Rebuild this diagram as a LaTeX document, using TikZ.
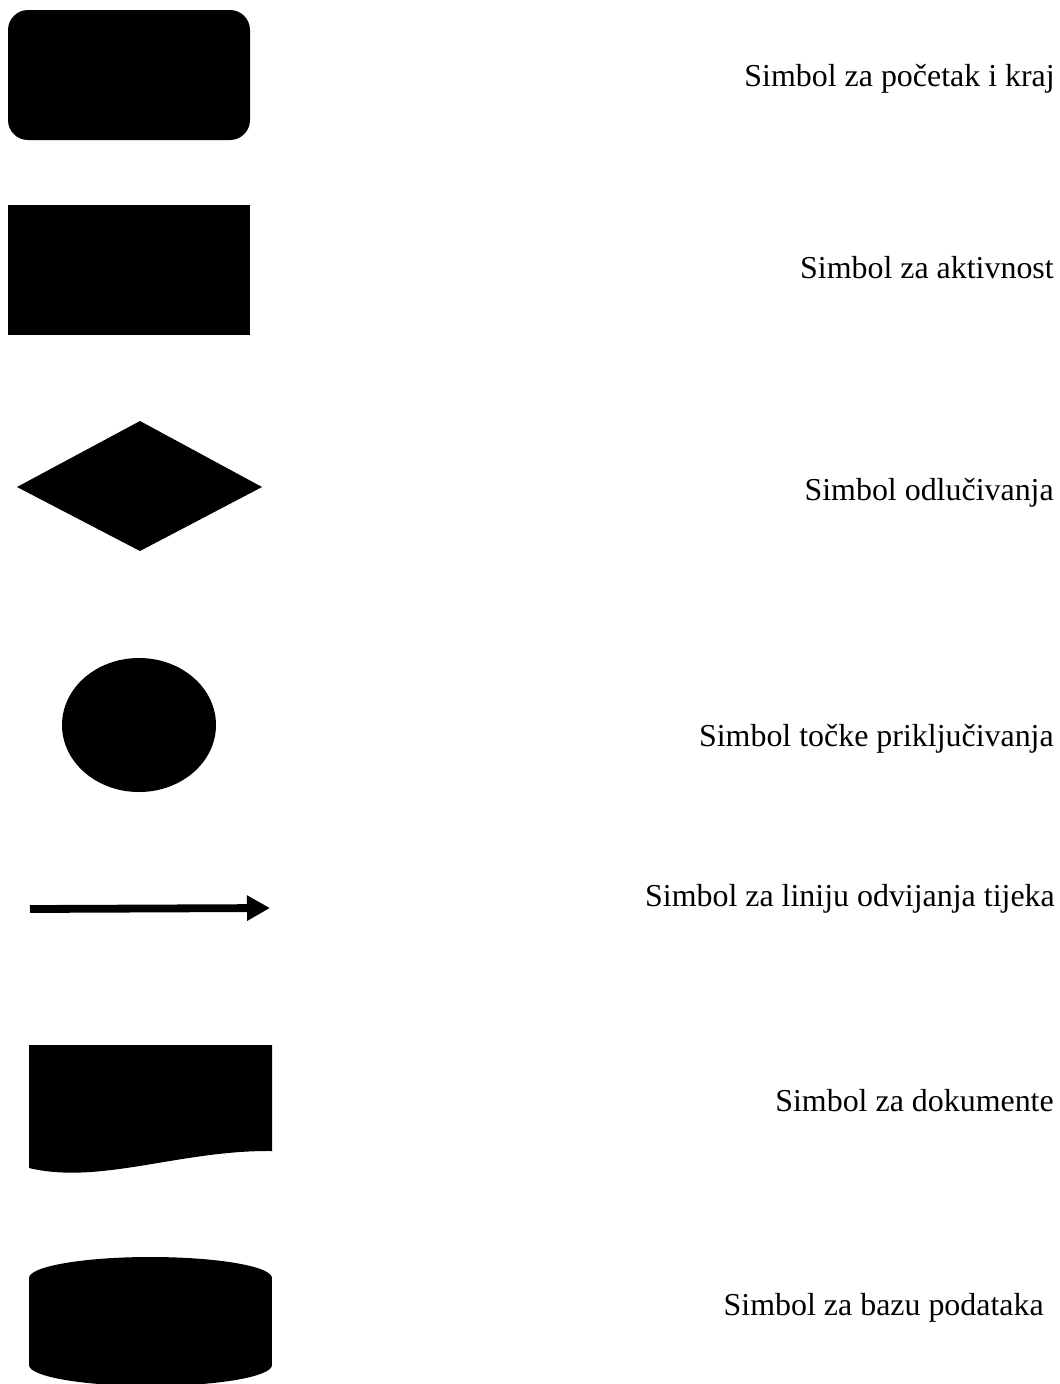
\documentclass[tikz,border=0pt]{standalone}
\usepackage{fontspec}
\setmainfont{Liberation Serif}
\usepackage{tikz}
\usetikzlibrary{arrows.meta}

\begin{document}
\begin{tikzpicture}[x=0.025cm, y=-0.025cm,
symbol/.style={fill=black, draw=none},
legendtext/.style={anchor=base east, inner sep=0pt, font=\fontsize{22.7pt}{27pt}\selectfont},
flowline/.style={line width=0.195cm, -{Triangle[length=0.575cm, width=0.6cm]}}]

\useasboundingbox (0,0) rectangle (1060,1384);

% simboli
\fill[symbol, rounded corners=0.5cm] (8,10) rectangle (250,140);
\fill[symbol] (8,205) rectangle (250,335);
\fill[symbol] (17,487) -- (140,421) -- (262,487) -- (140,551) -- cycle;
\fill[symbol] (139,725) ellipse [x radius=77, y radius=67];

\coordinate (flow start) at (30,909);
\coordinate (flow end) at (270,908);
\draw[flowline] (flow start) -- (flow end);

\fill[symbol] (29,1045) -- (272,1045) -- (272,1151)
	.. controls (180,1150) and (100,1185) .. (29,1168) -- cycle;

\fill[symbol] (29,1278) rectangle (272,1365);
\fill[symbol] (150.5,1278) ellipse [x radius=121.5, y radius=21];
\fill[symbol] (150.5,1365) ellipse [x radius=121.5, y radius=21];

% opisi
\node[legendtext] (start end) at (1055,86) {Simbol za početak i kraj};
\node[legendtext] (activity) at (1054,278) {Simbol za aktivnost};
\node[legendtext] (decision) at (1054,500) {Simbol odlučivanja};
\node[legendtext] (connector) at (1054,746) {Simbol točke priključivanja};
\node[legendtext] (flow) at (1055,906) {Simbol za liniju odvijanja tijeka};
\node[legendtext] (document) at (1054,1111) {Simbol za dokumente};
\node[legendtext] (database) at (1044,1315) {Simbol za bazu podataka};
\end{tikzpicture}
\end{document}
